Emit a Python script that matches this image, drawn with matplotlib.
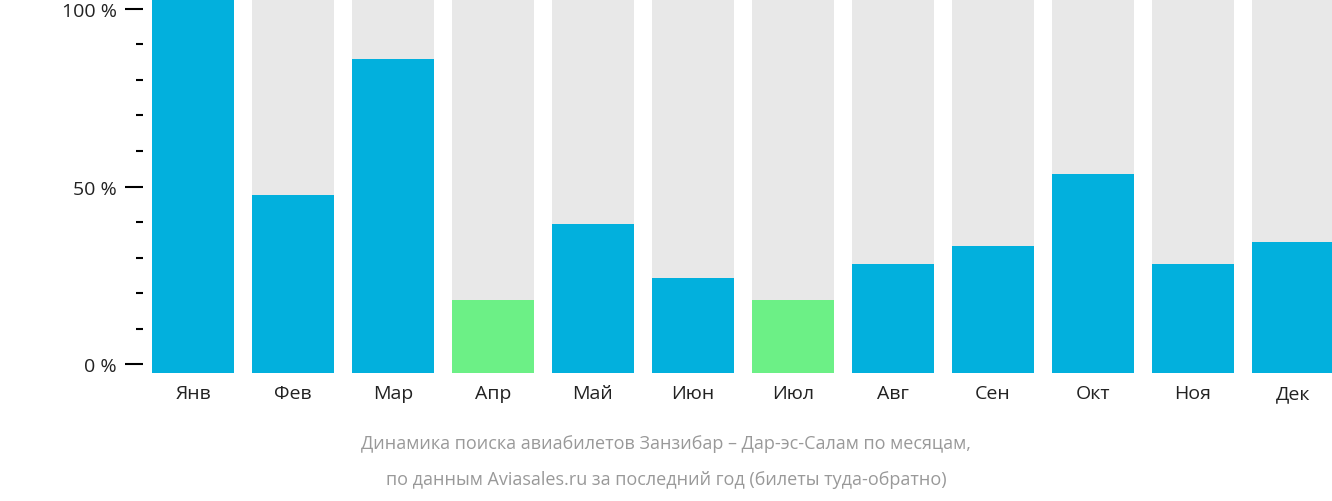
import matplotlib.pyplot as plt

months = ['Янв', 'Фев', 'Мар', 'Апр', 'Май', 'Июн', 'Июл', 'Авг', 'Сен', 'Окт', 'Ноя', 'Дек']
values = [103, 47.6, 85.9, 18.0, 39.4, 24.2, 18.0, 28.2, 33.2, 53.5, 28.2, 34.4]
lowest = [3, 6]

plt.rcParams['font.family'] = ['Open Sans', 'DejaVu Sans']
fig = plt.figure(figsize=(13.32, 5.02), dpi=100)
ax = fig.add_axes([143 / 1332, 1 - 374 / 502, 1 - 143 / 1332, 374 / 502])

base = -2.5
x = range(len(months))
ax.bar(x, [106 - base] * 12, bottom=base, width=0.82, color='#e8e8e8')
colors = ['#6cf086' if i in lowest else '#02b0dd' for i in x]
ax.bar(x, [v - base for v in values], bottom=base, width=0.82, color=colors)

ax.set_xlim(-0.5, 11.39)
ax.set_ylim(base, 102.8)
for s in ax.spines.values():
    s.set_visible(False)
ax.set_yticks([0, 50, 100])
ax.set_yticklabels(['0 %', '50 %', '100 %'], fontsize=14, color='#222222')
ax.set_yticks(range(0, 101, 10), minor=True)
ax.tick_params(axis='y', which='major', length=13, width=1.5, pad=6)
ax.tick_params(axis='y', which='minor', length=5, width=1.5)
ax.set_xticks(list(x))
ax.set_xticklabels(months, fontsize=14, color='#222222')
ax.tick_params(axis='x', length=0, pad=8)

fig.text(0.5, 1 - 444 / 502, 'Динамика поиска авиабилетов Занзибар – Дар-эс-Салам по месяцам,',
         ha='center', va='center', fontsize=13, color='#999999')
fig.text(0.5, 1 - 480 / 502, 'по данным Aviasales.ru за последний год (билеты туда-обратно)',
         ha='center', va='center', fontsize=13, color='#999999')

fig.savefig('out.png', dpi=100)
